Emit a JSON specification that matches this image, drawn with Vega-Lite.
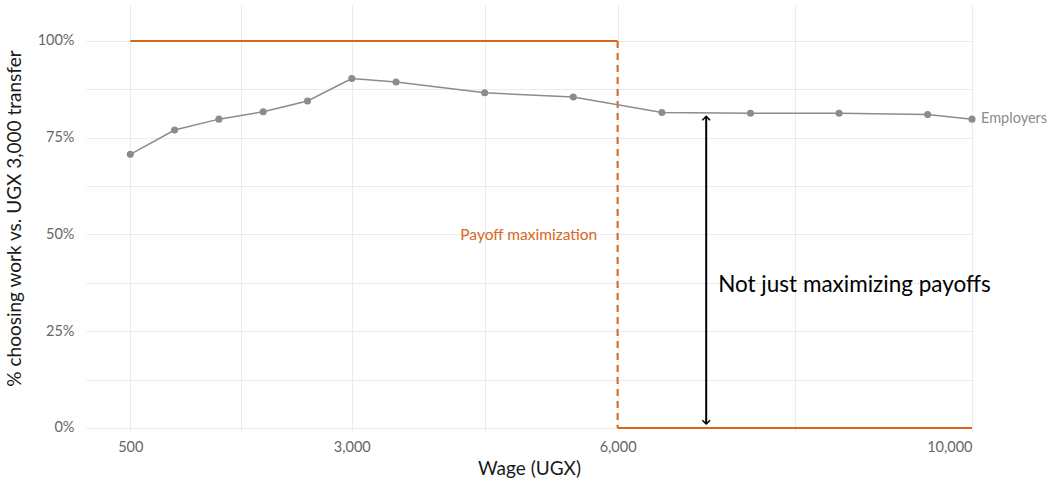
{
  "$schema": "https://vega.github.io/schema/vega-lite/v6.json",
  "autosize": {"type": "none"},
  "width": 886,
  "height": 426,
  "padding": {"left": 86, "top": 5, "right": 81, "bottom": 57},
  "background": "white",
  "config": {
    "view": {"stroke": null},
    "font": "Lato",
    "axis": {
      "domain": false,
      "ticks": false,
      "gridColor": "#ebebeb",
      "gridWidth": 1,
      "labelFont": "Lato",
      "labelFontSize": 14.5,
      "labelColor": "#666666",
      "titleFont": "Lato",
      "titleFontSize": 19,
      "titleFontWeight": "normal",
      "titleColor": "#1a1a1a"
    }
  },
  "datasets": {
    "employers": [
      {"wage": 500, "share": 0.707},
      {"wage": 1000, "share": 0.770},
      {"wage": 1500, "share": 0.798},
      {"wage": 2000, "share": 0.817},
      {"wage": 2500, "share": 0.845},
      {"wage": 3000, "share": 0.903},
      {"wage": 3500, "share": 0.894},
      {"wage": 4500, "share": 0.866},
      {"wage": 5500, "share": 0.855},
      {"wage": 6500, "share": 0.815},
      {"wage": 7500, "share": 0.813},
      {"wage": 8500, "share": 0.813},
      {"wage": 9500, "share": 0.810},
      {"wage": 10000, "share": 0.798}
    ],
    "payoff_h": [
      {"wage": 500, "wage2": 6000, "share": 1},
      {"wage": 6000, "wage2": 10000, "share": 0}
    ],
    "payoff_v": [
      {"wage": 6000, "share": 1, "share2": 0}
    ],
    "gap": [
      {"wage": 7000, "share": 0.805, "share2": 0.01}
    ]
  },
  "layer": [
    {
      "data": {"name": "payoff_v"},
      "mark": {"type": "rule", "color": "#d8671c", "strokeWidth": 2, "strokeDash": [7, 5]},
      "encoding": {
        "x": {
          "field": "wage", "type": "quantitative",
          "scale": {"domain": [0, 10000], "nice": false, "zero": false},
          "axis": {
            "values": [500, 1750, 3000, 4500, 6000, 8000, 10000],
            "labelExpr": "indexof([500, 3000, 6000, 10000], datum.value) >= 0 ? datum.label : ''",
            "format": ",.0f",
            "labelPadding": 9,
            "title": "Wage (UGX)",
            "titlePadding": 6
          }
        },
        "y": {
          "field": "share", "type": "quantitative",
          "scale": {"domain": [-0.008, 1.093], "nice": false, "zero": false},
          "axis": {
            "values": [0, 0.125, 0.25, 0.375, 0.5, 0.625, 0.75, 0.875, 1],
            "labelExpr": "indexof([0, 0.25, 0.5, 0.75, 1], datum.value) >= 0 ? datum.label : ''",
            "format": ".0%",
            "labelPadding": 12,
            "title": "% choosing work vs. UGX 3,000 transfer",
            "titlePadding": 13
          }
        },
        "y2": {"field": "share2"}
      }
    },
    {
      "data": {"name": "payoff_h"},
      "mark": {"type": "rule", "color": "#d8671c", "strokeWidth": 2},
      "encoding": {
        "x": {"field": "wage", "type": "quantitative"},
        "x2": {"field": "wage2"},
        "y": {"field": "share", "type": "quantitative"}
      }
    },
    {
      "data": {"name": "employers"},
      "mark": {"type": "line", "color": "#8c8c8c", "strokeWidth": 1.5},
      "encoding": {
        "x": {"field": "wage", "type": "quantitative"},
        "y": {"field": "share", "type": "quantitative"}
      }
    },
    {
      "data": {"name": "employers"},
      "mark": {"type": "point", "filled": true, "color": "#8c8c8c", "size": 50, "opacity": 1},
      "encoding": {
        "x": {"field": "wage", "type": "quantitative"},
        "y": {"field": "share", "type": "quantitative"}
      }
    },
    {
      "data": {"name": "gap"},
      "mark": {"type": "rule", "color": "black", "strokeWidth": 2},
      "encoding": {
        "x": {"field": "wage", "type": "quantitative"},
        "y": {"field": "share", "type": "quantitative"},
        "y2": {"field": "share2"}
      }
    },
    {
      "data": {"name": "gap"},
      "mark": {"type": "point", "shape": "M-1,1L0,0L1,1", "filled": false, "stroke": "black", "strokeWidth": 1.5, "size": 60, "opacity": 1},
      "encoding": {
        "x": {"field": "wage", "type": "quantitative"},
        "y": {"field": "share", "type": "quantitative"}
      }
    },
    {
      "data": {"name": "gap"},
      "mark": {"type": "point", "shape": "M-1,-1L0,0L1,-1", "filled": false, "stroke": "black", "strokeWidth": 1.5, "size": 60, "opacity": 1},
      "encoding": {
        "x": {"field": "wage", "type": "quantitative"},
        "y": {"field": "share2", "type": "quantitative"}
      }
    },
    {
      "data": {"values": [{"wage": 7135, "share": 0.37, "label": "Not just maximizing payoffs"}]},
      "mark": {"type": "text", "align": "left", "baseline": "middle", "fontSize": 22.5, "color": "black", "font": "Lato"},
      "encoding": {
        "x": {"field": "wage", "type": "quantitative"},
        "y": {"field": "share", "type": "quantitative"},
        "text": {"field": "label"}
      }
    },
    {
      "data": {"values": [{"wage": 5770, "share": 0.498, "label": "Payoff maximization"}]},
      "mark": {"type": "text", "align": "right", "baseline": "middle", "fontSize": 15.5, "color": "#d8671c", "font": "Lato"},
      "encoding": {
        "x": {"field": "wage", "type": "quantitative"},
        "y": {"field": "share", "type": "quantitative"},
        "text": {"field": "label"}
      }
    },
    {
      "data": {"values": [{"wage": 10000, "share": 0.798, "label": "Employers"}]},
      "mark": {"type": "text", "align": "left", "baseline": "middle", "dx": 9, "fontSize": 14.5, "color": "#8c8c8c", "font": "Lato"},
      "encoding": {
        "x": {"field": "wage", "type": "quantitative"},
        "y": {"field": "share", "type": "quantitative"},
        "text": {"field": "label"}
      }
    }
  ]
}
